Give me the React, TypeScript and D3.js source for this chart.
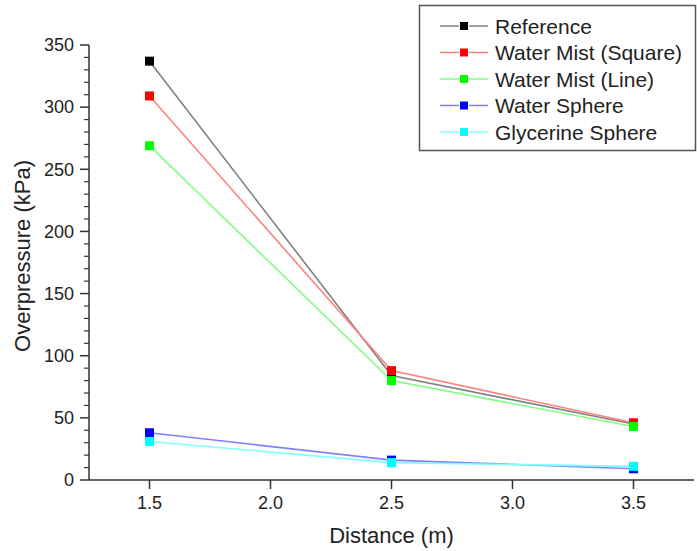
import React from "react";
import * as d3 from "d3";

const distances = [1.5, 2.5, 3.5];
const seriesNames = ["Reference", "Water Mist (Square)", "Water Mist (Line)", "Water Sphere", "Glycerine Sphere"];
const referenceValues = [337, 84, 45];
const mistSquareValues = [309, 88, 46];
const mistLineValues = [269, 80, 43];
const waterSphereValues = [38, 16, 9];
const glycerineValues = [31, 14, 11];
const markerColors = ["#000000", "#ff0000", "#00ff00", "#0000ff", "#00ffff"];
const lineColors = ["#808080", "#ff8080", "#80ff80", "#8080ff", "#80ffff"];
const xTicks = [1.5, 2.0, 2.5, 3.0, 3.5];
const yTicks = [0, 50, 100, 150, 200, 250, 300, 350];

const W = 697, H = 551;
const left = 89, right = 694, top = 45, bottom = 480;

export default function App() {
  const x = d3.scaleLinear().domain([1.25, 3.75]).range([left, right]);
  const y = d3.scaleLinear().domain([0, 350]).range([bottom, top]);
  const allValues = [referenceValues, mistSquareValues, mistLineValues, waterSphereValues, glycerineValues];
  const line = d3.line<[number, number]>().x(d => x(d[0])).y(d => y(d[1]));
  const minor = d3.range(0, 351, 10).filter(v => v % 50 !== 0);
  const font = "'Liberation Sans', Arial, sans-serif";
  const ms = 9;
  const lm = 8;
  return (
    <svg width={W} height={H} style={{ position: "absolute", left: 0, top: 0, background: "#fff" }} fontFamily={font}>
      <rect x={0} y={0} width={W} height={H} fill="#fff" />
      {/* axes */}
      <line x1={left} x2={left} y1={top} y2={bottom} stroke="#333" strokeWidth={1.5} />
      <line x1={left} x2={right} y1={bottom} y2={bottom} stroke="#333" strokeWidth={1.5} />
      {yTicks.map(t => (
        <g key={"y" + t}>
          <line x1={left - 9} x2={left} y1={y(t)} y2={y(t)} stroke="#333" strokeWidth={1.5} />
          <text x={left - 15} y={y(t)} dy="0.35em" textAnchor="end" fontSize={18} fill="#222">{t}</text>
        </g>
      ))}
      {minor.map(t => (
        <line key={"m" + t} x1={left - 5} x2={left} y1={y(t)} y2={y(t)} stroke="#333" strokeWidth={1.2} />
      ))}
      {xTicks.map(t => (
        <g key={"x" + t}>
          <line x1={x(t)} x2={x(t)} y1={bottom} y2={bottom + 9} stroke="#333" strokeWidth={1.5} />
          <text x={x(t)} y={bottom + 29} textAnchor="middle" fontSize={18} fill="#222">{t.toFixed(1)}</text>
        </g>
      ))}
      <text x={x(2.5)} y={543} textAnchor="middle" fontSize={22} fill="#222">Distance (m)</text>
      <text transform={`translate(30,256) rotate(-90)`} textAnchor="middle" fontSize={22} fill="#222">Overpressure (kPa)</text>
      {/* series */}
      {allValues.map((vals, i) => (
        <path key={"l" + i} d={line(distances.map((d, j) => [d, vals[j]]) as [number, number][]) || ""} fill="none" stroke={lineColors[i]} strokeWidth={1.6} />
      ))}
      {allValues.map((vals, i) => (
        <g key={"p" + i}>
          {distances.map((d, j) => (
            <rect key={j} x={x(d) - ms / 2} y={y(vals[j]) - ms / 2} width={ms} height={ms} fill={markerColors[i]} />
          ))}
        </g>
      ))}
      {/* legend */}
      <rect x={419.5} y={5.5} width={276} height={145} fill="#fff" stroke="#555" strokeWidth={1.5} />
      {seriesNames.map((n, i) => {
        const cy = 26 + i * 26.5;
        return (
          <g key={"lg" + i}>
            <line x1={440} x2={488} y1={cy} y2={cy} stroke={lineColors[i]} strokeWidth={1.5} />
            <rect x={464 - lm / 2} y={cy - lm / 2} width={lm} height={lm} fill={markerColors[i]} stroke="#fff" strokeWidth={2} paintOrder="stroke" />
            <text x={495} y={cy} dy="0.36em" fontSize={21} fill="#222">{n}</text>
          </g>
        );
      })}
    </svg>
  );
}
